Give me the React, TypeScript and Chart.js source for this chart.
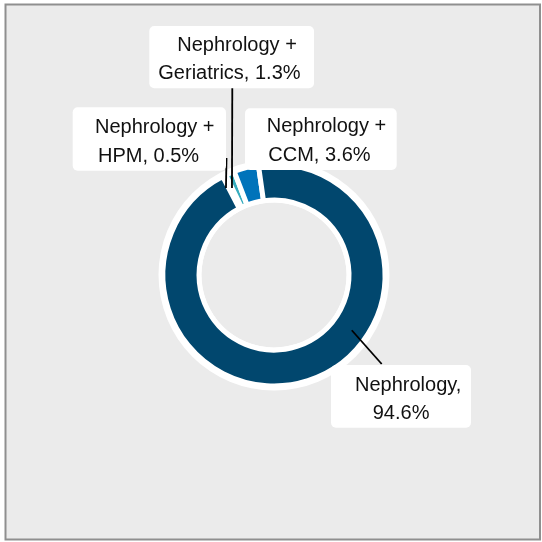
import React, { useEffect, useRef } from "react";
import { Chart, registerables } from "chart.js";

Chart.register(...registerables);

// ---- data ----
const categories = [
  "Nephrology + HPM",
  "Nephrology + Geriatrics",
  "Nephrology + CCM",
  "Nephrology",
];
const shares = [0.5, 1.3, 3.6, 94.6];
const sliceColors = ["#8fd0e0", "#37adbf", "#0073ba", "#01476e"];

// label text built from the data
function labelText(i: number): string[] {
  const name = categories[i];
  const pct = shares[i].toFixed(1) + "%";
  const k = name.indexOf(" + ");
  if (k >= 0) {
    return [name.slice(0, k) + " +", name.slice(k + 3) + ", " + pct];
  }
  return [name + ",", pct];
}

// ---- layout (pixels) ----
const W = 542;
const H = 542;
const OUTER_R = 111; // arc geometry radius (dark edge + half border)
const INNER_PCT = "67.57%";
const RING_BORDER = 5;
const WHITE_OUT = 115.5;
const WHITE_IN = 72.5;
const ROTATION = -27.5;
const FONT = '20px "Liberation Sans", Arial, sans-serif';

type LabelLayout = {
  box: [number, number, number, number];
  lineX: [number, number];
  baseY: [number, number];
  leader: { angle: number; r: number; toX: number; toY: number } | null;
};

const labelLayouts: LabelLayout[] = [
  {
    box: [72.7, 107.3, 153.3, 63.4],
    lineX: [95, 98],
    baseY: [133.3, 162.2],
    leader: { angle: -28.9, r: 99.4, toX: 226.5, toY: 158 },
  },
  {
    box: [149.3, 26, 164.7, 62.3],
    lineX: [177.3, 158.3],
    baseY: [50.7, 79.3],
    leader: { angle: -25.8, r: 96.6, toX: 232.3, toY: 88 },
  },
  {
    box: [245, 108.3, 151.7, 61.7],
    lineX: [266.7, 268.3],
    baseY: [132.3, 161],
    leader: null,
  },
  {
    box: [331, 365, 140, 62.7],
    lineX: [355, 372.7],
    baseY: [390.7, 419.3],
    leader: { angle: 125.4, r: 95.4, toX: 381.7, toY: 364 },
  },
];

function roundRect(ctx: CanvasRenderingContext2D, x: number, y: number, w: number, h: number, r: number) {
  ctx.beginPath();
  ctx.moveTo(x + r, y);
  ctx.lineTo(x + w - r, y);
  ctx.arcTo(x + w, y, x + w, y + r, r);
  ctx.lineTo(x + w, y + h - r);
  ctx.arcTo(x + w, y + h, x + w - r, y + h, r);
  ctx.lineTo(x + r, y + h);
  ctx.arcTo(x, y + h, x, y + h - r, r);
  ctx.lineTo(x, y + r);
  ctx.arcTo(x, y, x + r, y, r);
  ctx.closePath();
}

const donutDecor = {
  id: "donutDecor",
  beforeDraw(chart: any) {
    const ctx: CanvasRenderingContext2D = chart.ctx;
    ctx.save();
    ctx.fillStyle = "#ffffff";
    ctx.fillRect(0, 0, W, H);
    ctx.fillStyle = "#ebebeb";
    ctx.fillRect(5.5, 4.5, 534.5, 535);
    ctx.strokeStyle = "#8f8f8f";
    ctx.lineWidth = 2;
    ctx.strokeRect(5.5, 4.5, 534.5, 535);
    ctx.restore();
  },
  beforeDatasetsDraw(chart: any) {
    const arc = chart.getDatasetMeta(0).data[0];
    if (!arc) return;
    const ctx: CanvasRenderingContext2D = chart.ctx;
    ctx.save();
    ctx.fillStyle = "#ffffff";
    ctx.beginPath();
    ctx.arc(arc.x, arc.y, WHITE_OUT, 0, Math.PI * 2);
    ctx.arc(arc.x, arc.y, WHITE_IN, 0, Math.PI * 2, true);
    ctx.fill("evenodd");
    ctx.restore();
  },
  afterDatasetsDraw(chart: any) {
    const arc = chart.getDatasetMeta(0).data[0];
    if (!arc) return;
    const cx = arc.x;
    const cy = arc.y;
    const ctx: CanvasRenderingContext2D = chart.ctx;
    ctx.save();
    // leader lines
    ctx.strokeStyle = "#000000";
    ctx.lineWidth = 1.8;
    labelLayouts.forEach((L) => {
      if (!L.leader) return;
      const a = (L.leader.angle * Math.PI) / 180;
      const sx = cx + L.leader.r * Math.sin(a);
      const sy = cy - L.leader.r * Math.cos(a);
      ctx.beginPath();
      ctx.moveTo(sx, sy);
      ctx.lineTo(L.leader.toX, L.leader.toY);
      ctx.stroke();
    });
    // boxes + text
    ctx.font = FONT;
    ctx.textBaseline = "alphabetic";
    ctx.textAlign = "left";
    labelLayouts.forEach((L, i) => {
      const [bx, by, bw, bh] = L.box;
      ctx.fillStyle = "#ffffff";
      roundRect(ctx, bx, by, bw, bh, 5);
      ctx.fill();
      ctx.fillStyle = "#111111";
      const lines = labelText(i);
      lines.forEach((t, j) => {
        ctx.fillText(t, L.lineX[j], L.baseY[j]);
      });
    });
    ctx.restore();
  },
};

export default function App() {
  const ref = useRef<HTMLCanvasElement | null>(null);
  useEffect(() => {
    if (!ref.current) return;
    const chart = new Chart(ref.current, {
      type: "doughnut",
      data: {
        labels: categories,
        datasets: [
          {
            data: shares,
            backgroundColor: sliceColors,
            borderColor: "#ffffff",
            borderWidth: RING_BORDER,
            hoverOffset: 0,
          },
        ],
      },
      options: {
        responsive: false,
        animation: false,
        rotation: ROTATION,
        radius: OUTER_R,
        cutout: INNER_PCT,
        layout: { padding: { left: 60, right: 54, top: 62, bottom: 54 } },
        plugins: {
          legend: { display: false },
          tooltip: { enabled: false },
        },
        events: [],
      } as any,
      plugins: [donutDecor],
    });
    return () => chart.destroy();
  }, []);
  return (
    <div style={{ position: "absolute", left: 0, top: 0, width: W, height: H }}>
      <canvas ref={ref} width={W} height={H} style={{ display: "block" }} />
    </div>
  );
}
